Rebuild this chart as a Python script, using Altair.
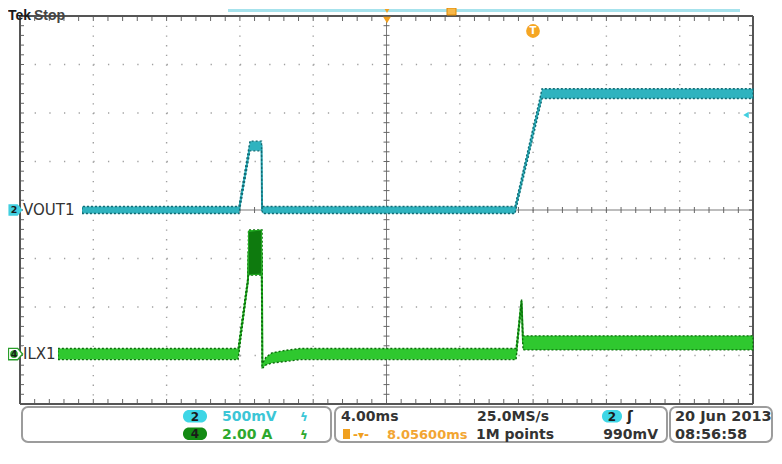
import altair as alt
import pandas as pd
import numpy as np

# ---------------- scope settings ----------------
TIME_SPAN = [0.0, 40.0]        # ms across screen (4.00 ms/div)
VOUT_PER_DIV = 0.5             # V/div  (ch2)
ILX_PER_DIV = 2.0              # A/div  (ch4)
ILX_ZERO_DIV = -2.97           # ch4 ground marker position (div)

# ---------------- VOUT1 (ch2) ----------------
vout_t = [3.38, 11.95, 12.55, 13.18, 13.21, 13.26, 27.01, 28.49, 40.0]
vout_v = [0.0, 0.0, 0.66, 0.66, 0.0, 0.0, 0.0, 1.20, 1.20]
vout_n = [0.036, 0.036, 0.05, 0.05, 0.01, 0.036, 0.036, 0.05, 0.05]

# ---------------- ILX1 (ch4) ----------------
ilx_t = [2.07, 11.90, 12.44, 12.47, 13.18, 13.21, 13.23, 13.42, 13.75, 14.46, 15.28, 27.07, 27.37, 27.45, 40.0]
ilx_i = [0.0, 0.0, 3.05, 4.19, 4.19, 2.27, -0.49, -0.29, -0.16, -0.08, 0.0, 0.0, 2.19, 0.46, 0.46]
ilx_n = [0.23, 0.23, 0.12, 0.93, 0.93, 2.85, 0.10, 0.16, 0.21, 0.23, 0.23, 0.23, 0.08, 0.29, 0.29]

# switching burst at the top of the first current pulse
burst_t = [12.47, 13.18]
burst_lo = [3.26, 3.30]
burst_hi = [5.05, 5.12]

# ---------------- readout texts ----------------
ch2_scale = "500mV"
ch4_scale = "2.00 A"
timebase = "4.00ms"
sample_rate = "25.0MS/s"
h_delay = "8.05600ms"
rec_len = "1M points"
trig_level = "990mV"
date_txt = "20 Jun 2013"
time_txt = "08:56:58"

W, H = 733, 388
DX, DY = W / 10.0, H / 8.0

xs = alt.Scale(domain=TIME_SPAN, nice=False, zero=False)
ys = alt.Scale(domain=[-4, 4], nice=False, zero=False)


def trace_df(t, c, n, per, off):
    df = pd.DataFrame({"t": t, "c": c, "n": n})
    df["mid"] = df.c / per + off
    df["lo"] = (df.c - df.n) / per + off
    df["hi"] = (df.c + df.n) / per + off
    return df


vdf = trace_df(vout_t, vout_v, vout_n, VOUT_PER_DIV, 0.0)
idf = trace_df(ilx_t, ilx_i, ilx_n, ILX_PER_DIV, ILX_ZERO_DIV)
bdf = pd.DataFrame({"t": burst_t,
                    "lo": np.array(burst_lo) / ILX_PER_DIV + ILX_ZERO_DIV,
                    "hi": np.array(burst_hi) / ILX_PER_DIV + ILX_ZERO_DIV})


def trace_layers(df, fill, edge, line, ew):
    base = alt.Chart(df)
    ln = base.mark_line(color=line, strokeWidth=2.0).encode(
        x=alt.X("t:Q", scale=xs, axis=None), y=alt.Y("mid:Q", scale=ys, axis=None))
    area = base.mark_area(color=fill, stroke=edge, strokeWidth=ew, strokeDash=[2, 2]).encode(
        x=alt.X("t:Q", scale=xs, axis=None), y=alt.Y("lo:Q", scale=ys, axis=None), y2="hi:Q")
    return [ln, area]


def px(col):
    return alt.X(col, type="quantitative", scale=None, axis=None)


def py(col):
    return alt.Y(col, type="quantitative", scale=None, axis=None)


def rules(df, color, width, dash=None):
    kw = dict(color=color, strokeWidth=width)
    if dash:
        kw["strokeDash"] = dash
    return alt.Chart(df).mark_rule(**kw).encode(x=px("x"), x2="x2:Q", y=py("y"), y2="y2:Q")


layers = []

# ---- graticule dotted grid
vg = pd.DataFrame({"x": [k * DX for k in range(1, 10) if k != 5]})
vg["x2"] = vg.x
vg["y"] = 0.0
vg["y2"] = float(H)
hg = pd.DataFrame({"y": [k * DY for k in range(1, 8) if k != 4]})
hg["y2"] = hg.y
hg["x"] = 0.0
hg["x2"] = float(W)
layers.append(rules(vg, "#a0a0a0", 1.4, [1.3, DY / 5 - 1.3]))
layers.append(rules(hg, "#a0a0a0", 1.4, [1.3, DX / 5 - 1.3]))

# ---- center axes
ca = pd.DataFrame({"x": [W / 2, 0.0], "x2": [W / 2, float(W)], "y": [0.0, H / 2], "y2": [float(H), H / 2]})
layers.append(rules(ca, "#7a7a7a", 1.0))

# ---- minor ticks on borders and center lines
kx = np.arange(1, 50) * (W / 50.0)
ky = np.arange(1, 40) * (H / 40.0)
tk = pd.concat([
    pd.DataFrame({"x": kx, "x2": kx, "y": 0.0, "y2": 5.0}),
    pd.DataFrame({"x": kx, "x2": kx, "y": H - 5.0, "y2": float(H)}),
    pd.DataFrame({"x": kx, "x2": kx, "y": H / 2 - 3.0, "y2": H / 2 + 3.0}),
    pd.DataFrame({"x": 0.0, "x2": 4.0, "y": ky, "y2": ky}),
    pd.DataFrame({"x": W - 4.0, "x2": float(W), "y": ky, "y2": ky}),
    pd.DataFrame({"x": W / 2 - 3.0, "x2": W / 2 + 3.0, "y": ky, "y2": ky}),
])
layers.append(rules(tk, "#666666", 1.0))

# ---- frame
fr = pd.DataFrame({"x": [0.0, float(W), 0.0, 0.0], "x2": [0.0, float(W), float(W), float(W)],
                   "y": [0.0, 0.0, float(H), 0.0], "y2": [float(H), float(H), float(H), 0.0]})
layers.append(rules(fr, "#555555", 2.0))

# ---- traces
layers += trace_layers(idf, "#2FC82F", "#0C6E0C", "#22B022", 1.4)
layers.append(alt.Chart(bdf).mark_area(color="#0E7A0E", stroke="#22A822", strokeWidth=1).encode(
    x=alt.X("t:Q", scale=xs, axis=None), y=alt.Y("lo:Q", scale=ys, axis=None), y2="hi:Q"))
layers += trace_layers(vdf, "#2FB3BF", "#116A73", "#28AAB6", 1.4)

# ---- channel labels
y4 = H / 2 + (ILX_ZERO_DIV * -DY)
lab = pd.DataFrame({"x": [3.0, 3.0], "y": [H / 2, y4], "s": ["VOUT1", "ILX1"]})
layers.append(alt.Chart(lab).mark_rect(color="white").encode(
    x=px("x"), x2=alt.X2("x2:Q"), y=py("y1"), y2=alt.Y2("y2:Q")).transform_calculate(
    x2="datum.s == 'VOUT1' ? 62 : 38", y1="datum.y - 8", y2="datum.y + 8"))
layers.append(alt.Chart(lab).mark_text(align="left", baseline="middle", font="DejaVu Sans",
                                       fontSize=15, color="#333333").encode(
    x=px("x"), y=py("y"), text="s:N"))

# ---- channel ground markers on the left
arrow = "M -1 -0.8 L 0.3 -0.8 L 1 0 L 0.3 0.8 L -1 0.8 Z"
mk = pd.DataFrame({"x": [-4.5, -4.5], "y": [H / 2, y4], "s": ["2", "4"]})
layers.append(alt.Chart(mk.iloc[:1]).mark_point(shape=arrow, filled=True, color="#41CFE0", size=200, opacity=1).encode(
    x=px("x"), y=py("y")))
layers.append(alt.Chart(mk.iloc[1:]).mark_point(shape=arrow, filled=True, fill="white", stroke="#2A9E2A",
                                                 size=200, strokeWidth=1.4, opacity=1).encode(x=px("x"), y=py("y")))
layers.append(alt.Chart(mk.iloc[1:]).mark_point(shape="circle", filled=True, color="#2FA52F", size=60, opacity=1).encode(
    x=alt.X("xc:Q", scale=None, axis=None), y=py("y")).transform_calculate(xc="datum.x - 1.5"))
layers.append(alt.Chart(mk).mark_text(font="DejaVu Sans", fontWeight="bold", fontSize=9.5, color="#1a1a1a").encode(
    x=alt.X("xc:Q", scale=None, axis=None), y=py("y"), text="s:N").transform_calculate(xc="datum.x - 1.5"))

# ---- trigger level marker on right
layers.append(alt.Chart(pd.DataFrame({"x": [726.0], "y": [99.0]})).mark_point(
    shape="triangle-left", filled=True, color="#41CFE0", size=40, opacity=1).encode(x=px("x"), y=py("y")))

# ---- top area: Tek Stop, record bar, trigger markers
top_txt = pd.DataFrame({"x": [-12.0, 14.0], "y": [-7.0, -7.0], "s": ["Tek", "Stop"], "c": ["#1a1a1a", "#444444"]})
layers.append(alt.Chart(top_txt).mark_text(align="left", baseline="top", font="Liberation Sans",
                                           fontWeight="bold", fontSize=14).encode(
    x=px("x"), y=py("y"), text="s:N", color=alt.Color("c:N", scale=None)))
layers.append(rules(pd.DataFrame({"x": [208.0], "x2": [720.0], "y": [-5.5], "y2": [-5.5]}), "#A6E2EC", 3))
layers.append(alt.Chart(pd.DataFrame({"x": [367.0], "y": [-5.0]})).mark_point(
    shape="triangle-down", filled=True, color="#F0A020", size=22, opacity=1).encode(x=px("x"), y=py("y")))
layers.append(alt.Chart(pd.DataFrame({"x": [427.0], "x2": [436.0], "y": [-8.0], "y2": [-1.0]})).mark_rect(
    fill="#F7B84A", stroke="#E08A00", strokeWidth=1).encode(x=px("x"), x2="x2:Q", y=py("y"), y2="y2:Q"))
layers.append(alt.Chart(pd.DataFrame({"x": [367.0], "y": [4.0]})).mark_point(
    shape="triangle-down", filled=True, color="#F0A020", size=60, opacity=1).encode(x=px("x"), y=py("y")))
tmark = pd.DataFrame({"x": [513.0], "y": [15.0], "s": ["T"]})
layers.append(alt.Chart(tmark).mark_point(shape="circle", filled=True, color="#F5A623", size=190, opacity=1).encode(
    x=px("x"), y=py("y")))
layers.append(alt.Chart(tmark).mark_text(font="DejaVu Sans", fontWeight="bold", fontSize=10, color="white").encode(
    x=px("x"), y=py("y"), text="s:N"))

# ---- status bar boxes
boxes = pd.DataFrame({"x": [2.0, 315.0, 650.0], "x2": [311.0, 647.0, 752.0],
                      "y": [391.0, 391.0, 391.0], "y2": [426.0, 426.0, 426.0]})
layers.append(alt.Chart(boxes).mark_rect(fill="white", stroke="#9c9c9c", strokeWidth=2, cornerRadius=6).encode(
    x=px("x"), x2="x2:Q", y=py("y"), y2="y2:Q"))

ovals = pd.DataFrame({"x": [163.0, 163.0, 582.0], "x2": [187.0, 187.0, 602.0],
                      "y": [394.0, 411.5, 394.0], "y2": [406.5, 424.0, 406.5],
                      "c": ["#3ED6E6", "#138A13", "#3ED6E6"], "s": ["2", "4", "2"]})
layers.append(alt.Chart(ovals).mark_rect(cornerRadius=6).encode(
    x=px("x"), x2="x2:Q", y=py("y"), y2="y2:Q", color=alt.Color("c:N", scale=None)))
layers.append(alt.Chart(ovals).mark_text(font="DejaVu Sans", fontWeight="bold", fontSize=12, color="#1a1a1a").encode(
    x=alt.X("xm:Q", scale=None, axis=None), y=alt.Y("ym:Q", scale=None, axis=None), text="s:N").transform_calculate(
    xm="(datum.x + datum.x2) / 2", ym="(datum.y + datum.y2) / 2 + 0.5"))

layers.append(alt.Chart(pd.DataFrame({"x": [323.0], "x2": [330.0], "y": [413.0], "y2": [423.0]})).mark_rect(
    color="#F0A020").encode(x=px("x"), x2="x2:Q", y=py("y"), y2="y2:Q"))

st = pd.DataFrame([
    {"x": 202, "y": 400.5, "s": ch2_scale, "c": "#3CC6D6", "a": "left", "f": 14},
    {"x": 202, "y": 418.5, "s": ch4_scale, "c": "#2EA82E", "a": "left", "f": 14},
    {"x": 280, "y": 400.5, "s": "ϟ", "c": "#3CC6D6", "a": "left", "f": 12},
    {"x": 280, "y": 418.5, "s": "ϟ", "c": "#2EA82E", "a": "left", "f": 12},
    {"x": 321, "y": 400.5, "s": timebase, "c": "#333333", "a": "left", "f": 14},
    {"x": 457, "y": 400.5, "s": sample_rate, "c": "#333333", "a": "left", "f": 14},
    {"x": 333, "y": 418.5, "s": "-▾-", "c": "#F0A020", "a": "left", "f": 12},
    {"x": 367, "y": 418.5, "s": h_delay, "c": "#F2A532", "a": "left", "f": 13},
    {"x": 456, "y": 418.5, "s": rec_len, "c": "#333333", "a": "left", "f": 14},
    {"x": 607, "y": 400.5, "s": "ʃ", "c": "#222222", "a": "left", "f": 14},
    {"x": 638, "y": 418.5, "s": trig_level, "c": "#333333", "a": "right", "f": 14},
    {"x": 655, "y": 400.5, "s": date_txt, "c": "#333333", "a": "left", "f": 14.5},
    {"x": 655, "y": 418.5, "s": time_txt, "c": "#333333", "a": "left", "f": 14.5},
])
for a in ["left", "right"]:
    layers.append(alt.Chart(st[st.a == a]).mark_text(align=a, baseline="middle", font="DejaVu Sans",
                                                     fontWeight="bold").encode(
        x=px("x"), y=py("y"), text="s:N", color=alt.Color("c:N", scale=None),
        size=alt.Size("f:Q", scale=None)))

chart = alt.layer(*layers).resolve_scale(x="independent", y="independent", color="independent",
                                         size="independent").properties(
    width=W, height=H,
    padding={"left": 12, "top": 8, "right": 21, "bottom": 48},
    autosize=alt.AutoSizeParams(type="none"),
    background="white",
).configure_view(stroke=None)

chart.save("out.html", embed_options={"renderer": "svg", "actions": False})
